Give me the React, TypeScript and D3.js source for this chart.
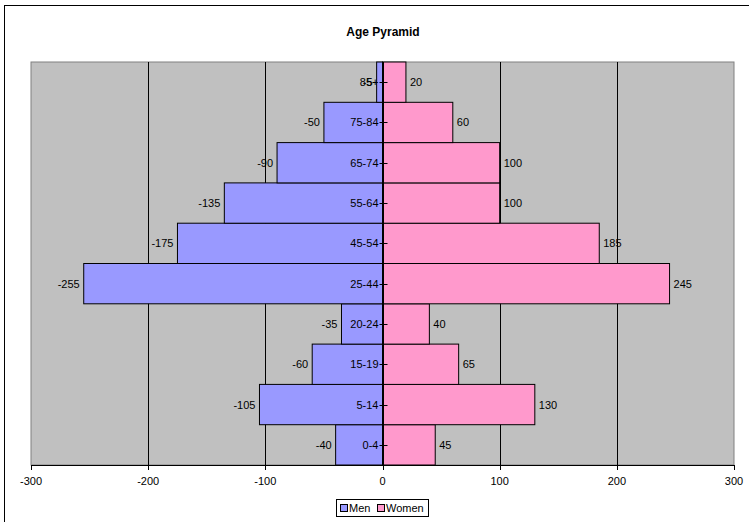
// @ts-nocheck
import * as d3 from "d3";
import React, { useRef, useEffect } from "react";

const ageGroups = ["0-4", "5-14", "15-19", "20-24", "25-44", "45-54", "55-64", "65-74", "75-84", "85+"];
const men = [-40, -105, -60, -35, -255, -175, -135, -90, -50, -5];
const women = [45, 130, 65, 40, 245, 185, 100, 100, 60, 20];
const xTicks = [-300, -200, -100, 0, 100, 200, 300];

export default function App() {
  const svgRef = useRef<SVGSVGElement | null>(null);

  useEffect(() => {
    const width = 749;
    const height = 522;
    const plot = { left: 31, right: 734, top: 62, bottom: 465 };
    const font = "Arial, 'Liberation Sans', sans-serif";

    const svg = d3.select(svgRef.current).attr("width", width).attr("height", height);
    svg.selectAll("*").remove();

    svg.append("rect").attr("width", width).attr("height", height).attr("fill", "#fff");
    svg.append("rect")
      .attr("x", 4.5).attr("y", 5.5).attr("width", 760).attr("height", 530)
      .attr("fill", "none").attr("stroke", "#000");

    svg.append("text")
      .attr("x", 383).attr("y", 36)
      .attr("text-anchor", "middle")
      .attr("font-family", font).attr("font-size", 12).attr("font-weight", "bold")
      .text("Age Pyramid");

    const x = d3.scaleLinear().domain([-300, 300]).range([plot.left, plot.right]);
    const y = d3.scaleBand().domain(ageGroups.slice().reverse()).range([plot.top, plot.bottom]).padding(0);

    // plot area
    svg.append("rect")
      .attr("x", plot.left).attr("y", plot.top)
      .attr("width", plot.right - plot.left).attr("height", plot.bottom - plot.top)
      .attr("fill", "#c0c0c0").attr("stroke", "#808080");

    // gridlines
    svg.append("g").selectAll("line")
      .data(xTicks.filter(t => Math.abs(t) < 300 && t !== 0))
      .join("line")
      .attr("x1", d => Math.round(x(d)) + 0.5).attr("x2", d => Math.round(x(d)) + 0.5)
      .attr("y1", plot.top).attr("y2", plot.bottom)
      .attr("stroke", "#000");

    const rows = ageGroups.map((g, i) => ({ g, m: men[i], w: women[i] }));

    const bars = svg.append("g");
    bars.selectAll("rect.men").data(rows).join("rect")
      .attr("x", d => x(d.m)).attr("y", d => y(d.g))
      .attr("width", d => x(0) - x(d.m)).attr("height", y.bandwidth())
      .attr("fill", "#9999ff").attr("stroke", "#000").attr("stroke-width", 1);
    bars.selectAll("rect.women").data(rows).join("rect")
      .attr("x", x(0)).attr("y", d => y(d.g))
      .attr("width", d => x(d.w) - x(0)).attr("height", y.bandwidth())
      .attr("fill", "#ff99cc").attr("stroke", "#000").attr("stroke-width", 1);

    const labels = svg.append("g").attr("font-family", font).attr("font-size", 11).attr("fill", "#000");
    labels.selectAll("text.m").data(rows).join("text")
      .attr("x", d => x(d.m) - 4).attr("y", d => y(d.g) + y.bandwidth() / 2 + 4)
      .attr("text-anchor", "end")
      .text(d => d.m);
    labels.selectAll("text.w").data(rows).join("text")
      .attr("x", d => x(d.w) + 4).attr("y", d => y(d.g) + y.bandwidth() / 2 + 4)
      .text(d => d.w);

    // vertical category axis at zero
    const x0 = Math.round(x(0)) + 0.5;
    const vAxis = svg.append("g");
    vAxis.append("line").attr("x1", x0).attr("x2", x0).attr("y1", plot.top).attr("y2", plot.bottom).attr("stroke", "#000");
    vAxis.selectAll("line.t").data(ageGroups).join("line")
      .attr("x1", x0 - 4).attr("x2", x0 + 4)
      .attr("y1", d => Math.round(y(d) + y.bandwidth() / 2) + 0.5)
      .attr("y2", d => Math.round(y(d) + y.bandwidth() / 2) + 0.5)
      .attr("stroke", "#000");
    vAxis.selectAll("text").data(ageGroups).join("text")
      .attr("x", x0 - 5).attr("y", d => y(d) + y.bandwidth() / 2 + 4)
      .attr("text-anchor", "end")
      .attr("font-family", font).attr("font-size", 11)
      .text(d => d);

    // bottom axis
    const bAxis = svg.append("g");
    bAxis.append("line").attr("x1", plot.left).attr("x2", plot.right)
      .attr("y1", plot.bottom + 0.5).attr("y2", plot.bottom + 0.5).attr("stroke", "#000");
    bAxis.selectAll("line.t").data(xTicks).join("line")
      .attr("x1", d => Math.round(x(d)) + 0.5).attr("x2", d => Math.round(x(d)) + 0.5)
      .attr("y1", plot.bottom).attr("y2", plot.bottom + 5)
      .attr("stroke", "#000");
    bAxis.selectAll("text").data(xTicks).join("text")
      .attr("x", d => x(d)).attr("y", plot.bottom + 20)
      .attr("text-anchor", "middle")
      .attr("font-family", font).attr("font-size", 11)
      .text(d => d);

    // legend
    const lg = svg.append("g").attr("font-family", font).attr("font-size", 11);
    lg.append("rect").attr("x", 336.5).attr("y", 499.5).attr("width", 92).attr("height", 17)
      .attr("fill", "#fff").attr("stroke", "#000");
    const items = [{ name: "Men", color: "#9999ff", x: 340 }, { name: "Women", color: "#ff99cc", x: 377 }];
    lg.selectAll("rect.s").data(items).join("rect")
      .attr("x", d => d.x + 0.5).attr("y", 504.5).attr("width", 7).attr("height", 7)
      .attr("fill", d => d.color).attr("stroke", "#000");
    lg.selectAll("text").data(items).join("text")
      .attr("x", d => d.x + 9).attr("y", 512)
      .text(d => d.name);
  }, []);

  return <svg ref={svgRef} style={{ position: "absolute", left: 0, top: 0, display: "block" }} />;
}
